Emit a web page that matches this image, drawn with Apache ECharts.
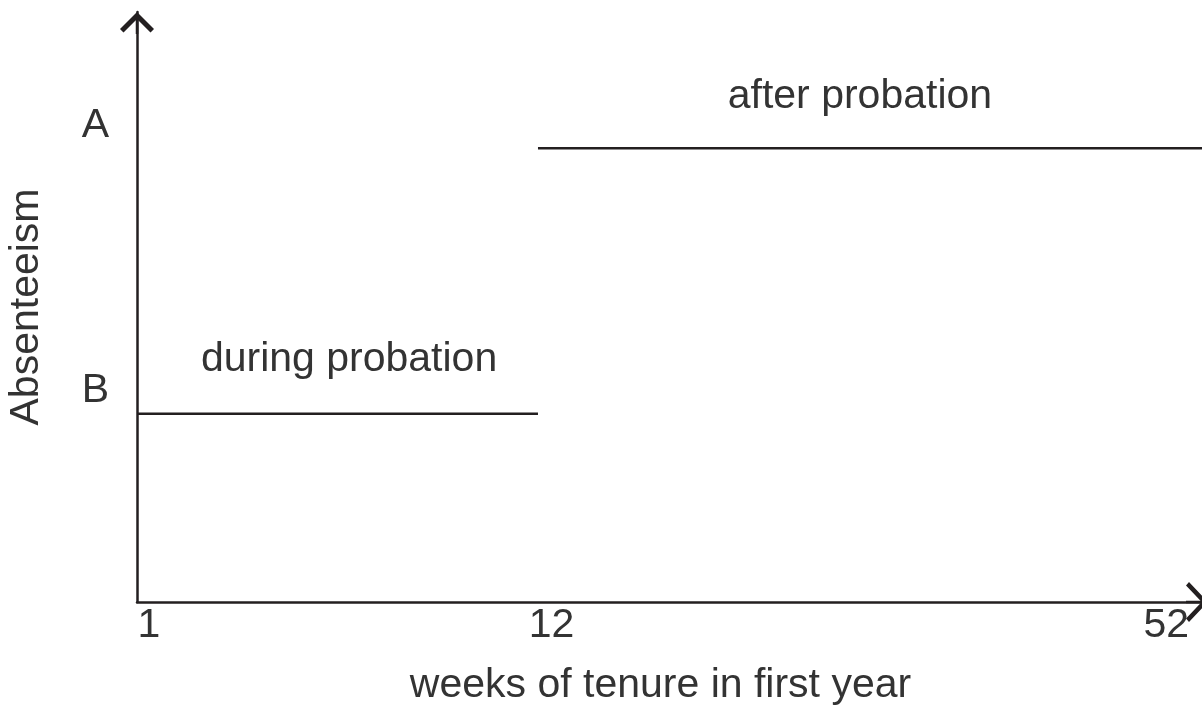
<!DOCTYPE html>
<html>
<head>
<meta charset="utf-8">
<script src="https://cdn.jsdelivr.net/npm/echarts@6/dist/echarts.min.js"></script>
<style>
  html, body { margin: 0; padding: 0; background: #fff; }
  #main { width: 1202px; height: 705px; }
</style>
</head>
<body>
<div id="main"></div>
<script>
// schematic chart: x is not to scale, so positions are in 0-100 axis units
var xTickPos = [1.1, 38.7, 96.1];
var xTickLabels = ['1', '12', '52'];
var yTickPos = [35.9, 80.8];
var yTickLabels = ['B', 'A'];

var stepX = 37.44;
var duringLevel = 31.9;
var afterLevel = 76.9;
var duringData = [[0, duringLevel], [stepX, duringLevel]];
var afterData = [[stepX, afterLevel], [100, afterLevel]];

var duringText = { name: 'during probation', coord: [19.8, 41.0] };
var afterText = { name: 'after probation', coord: [67.5, 85.6] };

var ink = '#231f20';
var textColor = '#333';
var font = "'Liberation Sans', Arial, sans-serif";
// open chevrons with a stem, pointing up (the axis turns them)
var chevronY = 'path://M17,0 L34,17 L30.5,20.5 L18.25,8.25 L18.25,22 L15.75,22 L15.75,8.25 L3.5,20.5 L0,17 Z';
var chevronX = 'path://M20,0 L40,19 L36.5,22 L21.25,7.5 L21.25,22 L18.75,22 L18.75,7.5 L3.5,22 L0,19 Z';

var myChart = echarts.init(document.getElementById('main'));

function textMark(item) {
  return {
    silent: true,
    symbol: 'rect',
    symbolSize: 1,
    itemStyle: { color: 'rgba(0,0,0,0)' },
    label: {
      show: true,
      position: 'inside',
      formatter: '{b}',
      fontSize: 41,
      fontFamily: font,
      color: textColor
    },
    data: [item]
  };
}

var option = {
  backgroundColor: '#fff',
  animation: false,
  grid: { left: 137, top: 12, width: 1071, bottom: 103, containLabel: false, outerBoundsMode: 'none' },
  xAxis: {
    type: 'value',
    min: 0,
    max: 100,
    name: 'weeks of tenure in first year',
    nameLocation: 'middle',
    nameGap: 63,
    nameTextStyle: { fontSize: 41, fontFamily: font, color: textColor, padding: [0, 24, 0, 0] },
    axisLine: {
      show: true,
      symbol: ['none', chevronX],
      symbolSize: [40, 22],
      symbolOffset: [0, -11],
      lineStyle: { color: ink, width: 2.5 }
    },
    axisTick: { show: false },
    splitLine: { show: false },
    axisLabel: {
      customValues: xTickPos,
      margin: 3,
      fontSize: 41,
      fontFamily: font,
      color: textColor,
      formatter: function (v) {
        var i = xTickPos.indexOf(v);
        return i >= 0 ? xTickLabels[i] : '';
      }
    }
  },
  yAxis: {
    type: 'value',
    min: 0,
    max: 100,
    name: 'Absenteeism',
    nameLocation: 'middle',
    nameGap: 90,
    nameTextStyle: { fontSize: 41, fontFamily: font, color: textColor },
    axisLine: {
      show: true,
      symbol: ['none', chevronY],
      symbolSize: [34, 22],
      symbolOffset: [0, -11],
      lineStyle: { color: ink, width: 2.5 }
    },
    axisTick: { show: false },
    splitLine: { show: false },
    axisLabel: {
      customValues: yTickPos,
      margin: 28,
      fontSize: 41,
      fontFamily: font,
      color: textColor,
      formatter: function (v) {
        var i = yTickPos.indexOf(v);
        return i >= 0 ? yTickLabels[i] : '';
      }
    }
  },
  series: [
    {
      name: 'during probation',
      type: 'line',
      data: duringData,
      symbol: 'none',
      lineStyle: { color: ink, width: 2.5 },
      markPoint: textMark(duringText)
    },
    {
      name: 'after probation',
      type: 'line',
      data: afterData,
      symbol: 'none',
      clip: false,
      lineStyle: { color: ink, width: 2.5 },
      markPoint: textMark(afterText)
    }
  ]
};

myChart.setOption(option);
</script>
</body>
</html>
